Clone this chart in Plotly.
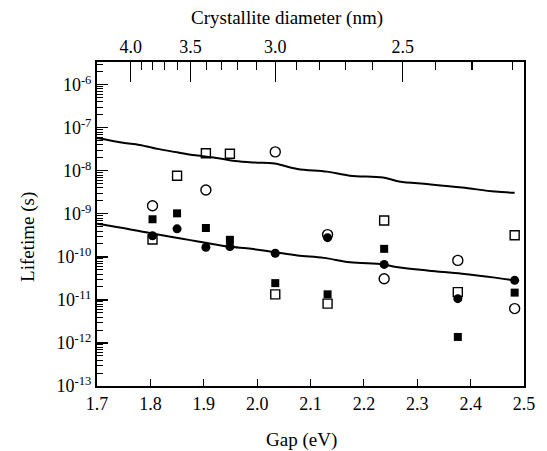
import plotly.graph_objects as go

# ---- data ----
oc_x = [1.804, 1.904, 2.034, 2.132, 2.238, 2.376, 2.4825]
oc_y = [1.55e-9, 3.6e-9, 2.76e-8, 3.3e-10, 3.1e-11, 8.3e-11, 6.3e-12]

fc_x = [1.804, 1.850, 1.904, 1.949, 2.034, 2.132, 2.238, 2.376, 2.4825]
fc_y = [3.1e-10, 4.5e-10, 1.68e-10, 1.74e-10, 1.22e-10, 2.8e-10, 6.7e-11, 1.07e-11, 2.85e-11]

os_x = [1.804, 1.850, 1.904, 1.949, 2.034, 2.132, 2.238, 2.376, 2.4825]
os_y = [2.53e-10, 7.7e-9, 2.57e-8, 2.5e-8, 1.35e-11, 8.2e-12, 7.0e-10, 1.52e-11, 3.2e-10]

fs_x = [1.804, 1.850, 1.904, 1.949, 2.034, 2.132, 2.238, 2.376, 2.4825]
fs_y = [7.5e-10, 1.03e-9, 4.7e-10, 2.5e-10, 2.46e-11, 1.35e-11, 1.54e-10, 1.38e-12, 1.48e-11]

upper_x = [1.70, 1.7487, 1.7795, 1.8165, 1.8535, 1.8844, 1.9275, 1.9584, 1.9954, 2.0324,
           2.0755, 2.131, 2.1736, 2.2359, 2.2660, 2.3215, 2.3839, 2.4455, 2.4825]
upper_y = [5.8e-8, 4.5e-8, 4.0e-8, 3.2e-8, 2.65e-8, 2.3e-8, 1.97e-8, 1.7e-8, 1.56e-8, 1.48e-8,
           1.11e-8, 9.6e-9, 7.7e-9, 7.0e-9, 5.65e-9, 4.9e-9, 4.1e-9, 3.3e-9, 3.1e-9]

lower_x = [1.70, 1.7487, 1.7919, 1.835, 1.872, 1.909, 1.946, 1.989, 2.0324, 2.0755,
           2.1249, 2.1741, 2.2359, 2.2605, 2.3221, 2.3839, 2.4455, 2.4825]
lower_y = [5.9e-10, 4.7e-10, 3.73e-10, 2.97e-10, 2.49e-10, 2.07e-10, 1.74e-10, 1.54e-10, 1.29e-10, 1.08e-10,
           9.5e-11, 7.5e-11, 6.7e-11, 5.8e-11, 4.8e-11, 4.07e-11, 3.3e-11, 2.85e-11]

# bottom axis ticks
gap_ticks = [1.7, 1.8, 1.9, 2.0, 2.1, 2.2, 2.3, 2.4, 2.5]
gap_labels = ["1.7", "1.8", "1.9", "2.0", "2.1", "2.2", "2.3", "2.4", "2.5"]

# top axis (crystallite diameter) ticks, located on the gap scale
diam_labels = ["4.0", "3.5", "3.0", "2.5"]
diam_gap_pos = [1.763, 1.875, 2.034, 2.273]
diam_minor_gap_pos = [1.7827, 1.8041, 1.8258, 1.8504,
                      1.9047, 1.9336, 1.9627, 1.9984,
                      2.0737, 2.1175, 2.1662, 2.2161,
                      2.3345, 2.4024, 2.4782]

# left axis ticks
y_exps = [-13, -12, -11, -10, -9, -8, -7, -6]
y_ticks = [10.0 ** e for e in y_exps]
y_labels = ["10<sup>%d</sup>" % e for e in y_exps]
y_minor = [k * 10.0 ** e for e in range(-13, -5) for k in range(2, 10)]

FONT = "Liberation Serif, Times New Roman, serif"

fig = go.Figure()

line_style = dict(color="black", width=2)
fig.add_trace(go.Scatter(x=upper_x, y=upper_y, mode="lines", line=line_style,
                         line_shape="spline", hoverinfo="skip", showlegend=False))
fig.add_trace(go.Scatter(x=lower_x, y=lower_y, mode="lines", line=line_style,
                         line_shape="spline", hoverinfo="skip", showlegend=False))

fig.add_trace(go.Scatter(x=oc_x, y=oc_y, mode="markers", showlegend=False,
                         marker=dict(symbol="circle-open", size=10, color="black",
                                     line=dict(width=1.4, color="black"))))
fig.add_trace(go.Scatter(x=os_x, y=os_y, mode="markers", showlegend=False,
                         marker=dict(symbol="square-open", size=9, color="black",
                                     line=dict(width=1.4, color="black"))))
fig.add_trace(go.Scatter(x=fc_x, y=fc_y, mode="markers", showlegend=False,
                         marker=dict(symbol="circle", size=9, color="black",
                                     line=dict(width=0))))
fig.add_trace(go.Scatter(x=fs_x, y=fs_y, mode="markers", showlegend=False,
                         marker=dict(symbol="square", size=8, color="black",
                                     line=dict(width=0))))

# invisible trace to activate the top axis
fig.add_trace(go.Scatter(x=diam_gap_pos, y=[y_ticks[-1]] * len(diam_gap_pos), xaxis="x2",
                         mode="markers", marker=dict(opacity=0), hoverinfo="skip",
                         showlegend=False))

tick_font = dict(family=FONT, size=18, color="black")

L, R, T, B = 97, 17, 62, 65
plot_h = 451 - T - B
plot_w = 547 - L - R

fig.update_layout(
    width=547, height=451,
    margin=dict(l=L, r=R, t=T, b=B),
    paper_bgcolor="white", plot_bgcolor="white",
    font=dict(family=FONT, size=18, color="black"),
    hovermode=False,
    xaxis=dict(range=[1.7, 2.5], tickmode="array", tickvals=gap_ticks, ticktext=gap_labels,
               ticks="inside", ticklen=7, tickwidth=1, tickcolor="black",
               showline=True, linewidth=2, linecolor="black", mirror=False,
               showgrid=False, zeroline=False, tickfont=tick_font),
    xaxis2=dict(range=[1.7, 2.5], overlaying="x", side="top", anchor="y",
                tickmode="array", tickvals=diam_gap_pos, ticktext=diam_labels,
                ticks="inside", ticklen=20, tickwidth=1.2, tickcolor="black",
                minor=dict(tickmode="array", tickvals=diam_minor_gap_pos, ticks="inside",
                           ticklen=8, tickwidth=1.2, tickcolor="black"),
                showline=True, linewidth=2, linecolor="black",
                showgrid=False, zeroline=False, tickfont=tick_font),
    yaxis=dict(type="log", range=[-13, -5.47], tickmode="array", tickvals=y_ticks,
               ticktext=y_labels, ticks="inside", ticklen=11, tickwidth=1.2, tickcolor="black",
               minor=dict(tickmode="array", tickvals=y_minor, ticks="inside", ticklen=6,
                          tickwidth=1, tickcolor="black"),
               showline=True, linewidth=2, linecolor="black", mirror=True,
               showgrid=False, zeroline=False, tickfont=tick_font),
    annotations=[
        dict(text="Gap (eV)", xref="paper", yref="paper", showarrow=False,
             x=(304 - L) / plot_w, y=-(440 - (451 - B)) / plot_h, yanchor="middle",
             font=dict(family=FONT, size=19)),
        dict(text="Crystallite diameter (nm)", xref="paper", yref="paper", showarrow=False,
             x=(290 - L) / plot_w, y=1 + (T - 18) / plot_h, yanchor="middle",
             font=dict(family=FONT, size=19)),
        dict(text="Lifetime (s)", xref="paper", yref="paper", showarrow=False, textangle=-90,
             x=-(L - 27) / plot_w, xanchor="center", y=((451 - B) - 237) / plot_h,
             yanchor="middle", font=dict(family=FONT, size=19)),
    ],
)

fig.write_html("out.html",
               config={"displayModeBar": False, "staticPlot": True},
               post_script="document.body.style.margin='0';document.body.style.overflow='hidden';")
